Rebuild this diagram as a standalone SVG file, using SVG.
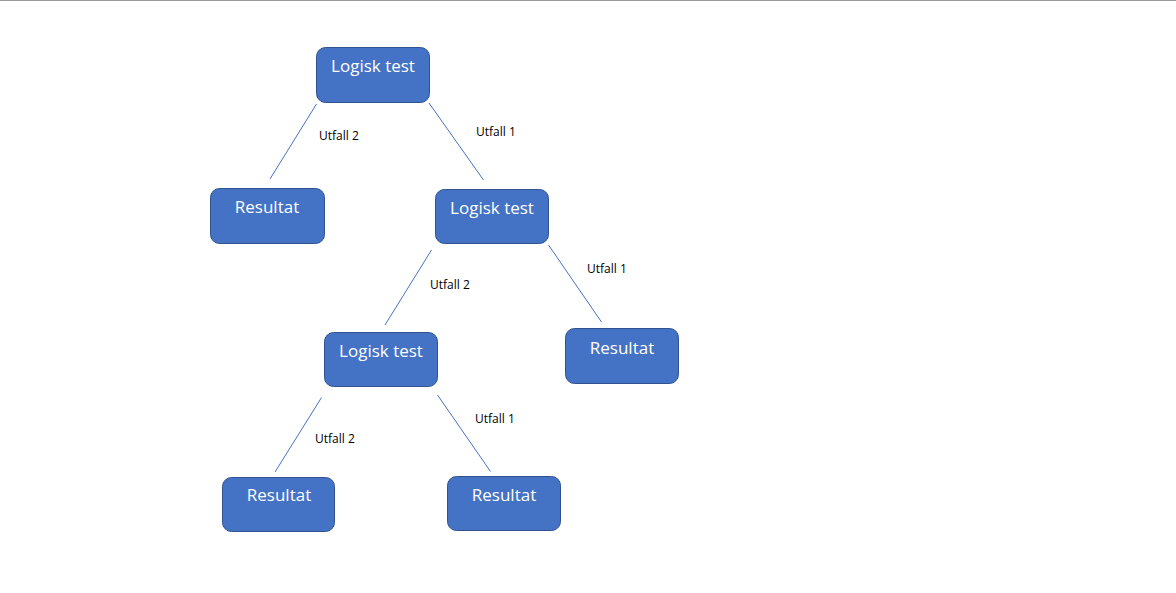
<svg xmlns="http://www.w3.org/2000/svg" width="1176" height="593" viewBox="0 0 1176 593">
<style>
.box{fill:#4472C4;stroke:#2F528F;stroke-width:1}
.t{font-family:"Open Sans","Liberation Sans",sans-serif;font-size:17px;fill:#ffffff;text-anchor:middle}
.lbl{font-family:"Open Sans","Liberation Sans",sans-serif;font-size:12px;fill:#000000}
.ln{stroke:#4472C4;stroke-width:1;fill:none}
</style>
<rect x="0" y="0" width="1176" height="593" fill="#ffffff"/>
<line x1="0" y1="0.5" x2="1176" y2="0.5" stroke="#999999" stroke-width="1"/>
<g id="connectors">
<line class="ln" x1="316.5" y1="104" x2="270" y2="179"/>
<line class="ln" x1="429" y1="103" x2="483.5" y2="180"/>
<line class="ln" x1="431.5" y1="250" x2="385" y2="325"/>
<line class="ln" x1="548.5" y1="245" x2="601.5" y2="322"/>
<line class="ln" x1="321.5" y1="397.5" x2="275" y2="472"/>
<line class="ln" x1="437.5" y1="395" x2="490.5" y2="471.5"/>
</g>
<g id="labels">
<text class="lbl" x="319" y="140">Utfall 2</text>
<text class="lbl" x="476" y="136">Utfall 1</text>
<text class="lbl" x="430" y="289">Utfall 2</text>
<text class="lbl" x="587" y="273">Utfall 1</text>
<text class="lbl" x="315" y="443">Utfall 2</text>
<text class="lbl" x="475" y="423">Utfall 1</text>
</g>
<g id="node1"><rect class="box" x="316.5" y="47.5" width="113" height="55" rx="9"/><text class="t" x="373" y="72">Logisk test</text></g>
<g id="node2"><rect class="box" x="210.5" y="188.5" width="114" height="55" rx="9"/><text class="t" x="267" y="213">Resultat</text></g>
<g id="node3"><rect class="box" x="435.5" y="189.5" width="113" height="54" rx="9"/><text class="t" x="492" y="214">Logisk test</text></g>
<g id="node4"><rect class="box" x="324.5" y="332.5" width="113" height="54" rx="9"/><text class="t" x="381" y="357">Logisk test</text></g>
<g id="node5"><rect class="box" x="565.5" y="328.5" width="113" height="55" rx="9"/><text class="t" x="622" y="354">Resultat</text></g>
<g id="node6"><rect class="box" x="222.5" y="477.5" width="112" height="54" rx="9"/><text class="t" x="279" y="501">Resultat</text></g>
<g id="node7"><rect class="box" x="447.5" y="476.5" width="113" height="54" rx="9"/><text class="t" x="504" y="501">Resultat</text></g>
</svg>
